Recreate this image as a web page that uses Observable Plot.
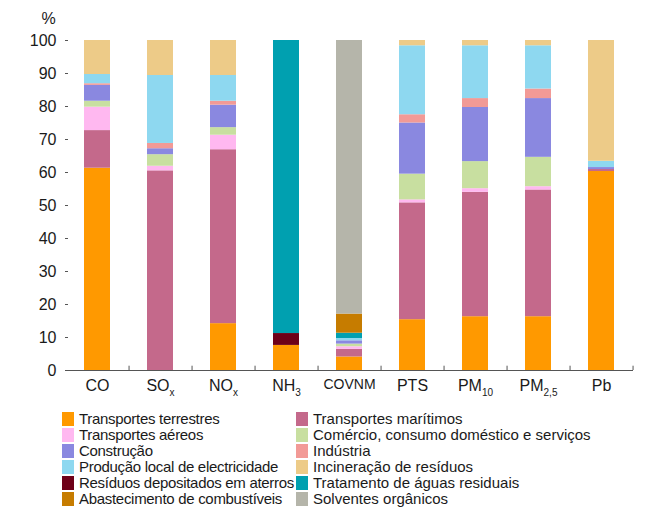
<!DOCTYPE html>
<html><head><meta charset="utf-8">
<script src="https://cdn.jsdelivr.net/npm/d3@7"></script>
<script src="https://cdn.jsdelivr.net/npm/@observablehq/plot@0.6"></script>
<style>
body{margin:0;background:#fff;font-family:"Liberation Sans",Arial,sans-serif;}
#wrap{width:651px;}
#legend{display:grid;grid-template-columns:234px 340px;margin-left:62px;margin-top:6px;font-size:15px;line-height:16px;color:#1a1a1a;}
.item{display:flex;align-items:center;white-space:nowrap;}
.item:nth-child(odd){letter-spacing:-0.3px;}
.sw{width:12px;height:14px;margin-right:5px;flex:none;}
</style></head><body><div id="wrap"><div id="chart"></div><div id="legend"></div></div>
<script>
const categories = ["CO","SOx","NOx","NH3","COVNM","PTS","PM10","PM2,5","Pb"];
const labelMain = ["CO","SO","NO","NH","COVNM","PTS","PM","PM","Pb"];
const labelSub = ["","x","x","3","","","10","2,5",""];
const yTicks = [0,10,20,30,40,50,60,70,80,90,100];

const seriesNames = [
  "Transportes terrestres","Transportes marítimos",
  "Transportes aéreos","Comércio, consumo doméstico e serviços",
  "Construção","Indústria",
  "Produção local de electricidade","Incineração de resíduos",
  "Resíduos depositados em aterros","Tratamento de águas residuais",
  "Abastecimento de combustíveis","Solventes orgânicos"
];
const seriesColors = ["#ff9900","#c4698b","#ffb8f0","#c8dfa0","#8a88e0","#f29a96","#8ed8f0","#edcb88","#6e0018","#00a0b0","#c67c00","#b5b5aa"];

const transportesTerrestres = [61.3, 0, 14.2, 7.6, 4.1, 15.4, 16.3, 16.3, 60.3];
const transportesMaritimos  = [11.4, 60.5, 52.7, 0, 2.3, 35.4, 37.7, 38.4, 0.6];
const transportesAereos     = [7.1, 1.4, 4.4, 0, 0.8, 0.9, 1.1, 1.0, 0];
const comercio              = [1.8, 3.5, 2.3, 0, 0.8, 7.8, 8.2, 8.9, 0];
const construcao            = [4.8, 1.8, 6.8, 0, 1.0, 15.5, 16.4, 17.8, 0.6];
const industria             = [0.5, 1.6, 1.2, 0, 0, 2.5, 2.7, 2.9, 0];
const electricidade         = [2.8, 20.6, 7.8, 0, 0.7, 20.9, 16.0, 13.1, 1.9];
const incineracao           = [10.3, 10.6, 10.6, 0, 0, 1.6, 1.6, 1.6, 36.6];
const aterros               = [0, 0, 0, 3.6, 0, 0, 0, 0, 0];
const aguasResiduais        = [0, 0, 0, 88.8, 1.6, 0, 0, 0, 0];
const abastecimento         = [0, 0, 0, 0, 5.8, 0, 0, 0, 0];
const solventes             = [0, 0, 0, 0, 82.9, 0, 0, 0, 0];

const seriesValues = [transportesTerrestres, transportesMaritimos, transportesAereos, comercio,
  construcao, industria, electricidade, incineracao, aterros, aguasResiduais, abastecimento, solventes];

const rows = [];
categories.forEach((c, i) => {
  seriesNames.forEach((s, j) => rows.push({category: c, series: s, value: seriesValues[j][i]}));
});

const W = 651, ML = 65, MR = 18;
const step = (W - ML - MR) / categories.length;

const plot = Plot.plot({
  width: W, height: 405, marginTop: 40, marginBottom: 35, marginLeft: ML, marginRight: MR,
  style: {fontFamily: "'Liberation Sans', Arial, sans-serif", fontSize: "16px", color: "#1a1a1a", background: "#fff"},
  x: {domain: categories, paddingInner: 0.59, paddingOuter: 0.295, label: null, axis: null},
  y: {domain: [0, 100], label: null, axis: null},
  color: {domain: seriesNames, range: seriesColors},
  marks: [
    Plot.barY(rows, {x: "category", y: "value", fill: "series"}),
    Plot.ruleY([0], {stroke: "#555"}),
    Plot.ruleX(categories, {x: d => d, dx: step / 2, y1: 0, y2: 1.3, stroke: "#555"}),
    Plot.axisY({ticks: yTicks, tickSize: 0, tickPadding: 9, fontSize: 16, line: true, stroke: "#555"}),
    Plot.axisY({ticks: yTicks, tickSize: 3, dx: 3, tickFormat: () => "", stroke: "#555"}),
    Plot.axisX({tickSize: 0, tickPadding: 9, fontSize: 16}),
    Plot.text(["%"], {frameAnchor: "top-left", textAnchor: "middle", lineAnchor: "middle", dx: -17, dy: -22, fontSize: 16})
  ]
});

const ns = "http://www.w3.org/2000/svg";
plot.querySelectorAll('[aria-label="x-axis tick label"] text').forEach(t => {
  const i = categories.indexOf(t.textContent);
  if (i < 0) return;
  t.textContent = "";
  const a = document.createElementNS(ns, "tspan");
  a.textContent = labelMain[i];
  t.appendChild(a);
  if (labelSub[i]) {
    const b = document.createElementNS(ns, "tspan");
    b.textContent = labelSub[i];
    b.setAttribute("font-size", "10");
    b.setAttribute("dy", "5");
    t.appendChild(b);
  }
  if (categories[i] === "COVNM") t.setAttribute("font-size", "14");
});
document.getElementById("chart").appendChild(plot);

const legend = document.getElementById("legend");
seriesNames.forEach((s, j) => {
  const it = document.createElement("div");
  it.className = "item";
  const sw = document.createElement("span");
  sw.className = "sw";
  sw.style.background = seriesColors[j];
  const tx = document.createElement("span");
  tx.textContent = s;
  it.appendChild(sw); it.appendChild(tx);
  legend.appendChild(it);
});
</script></body></html>
